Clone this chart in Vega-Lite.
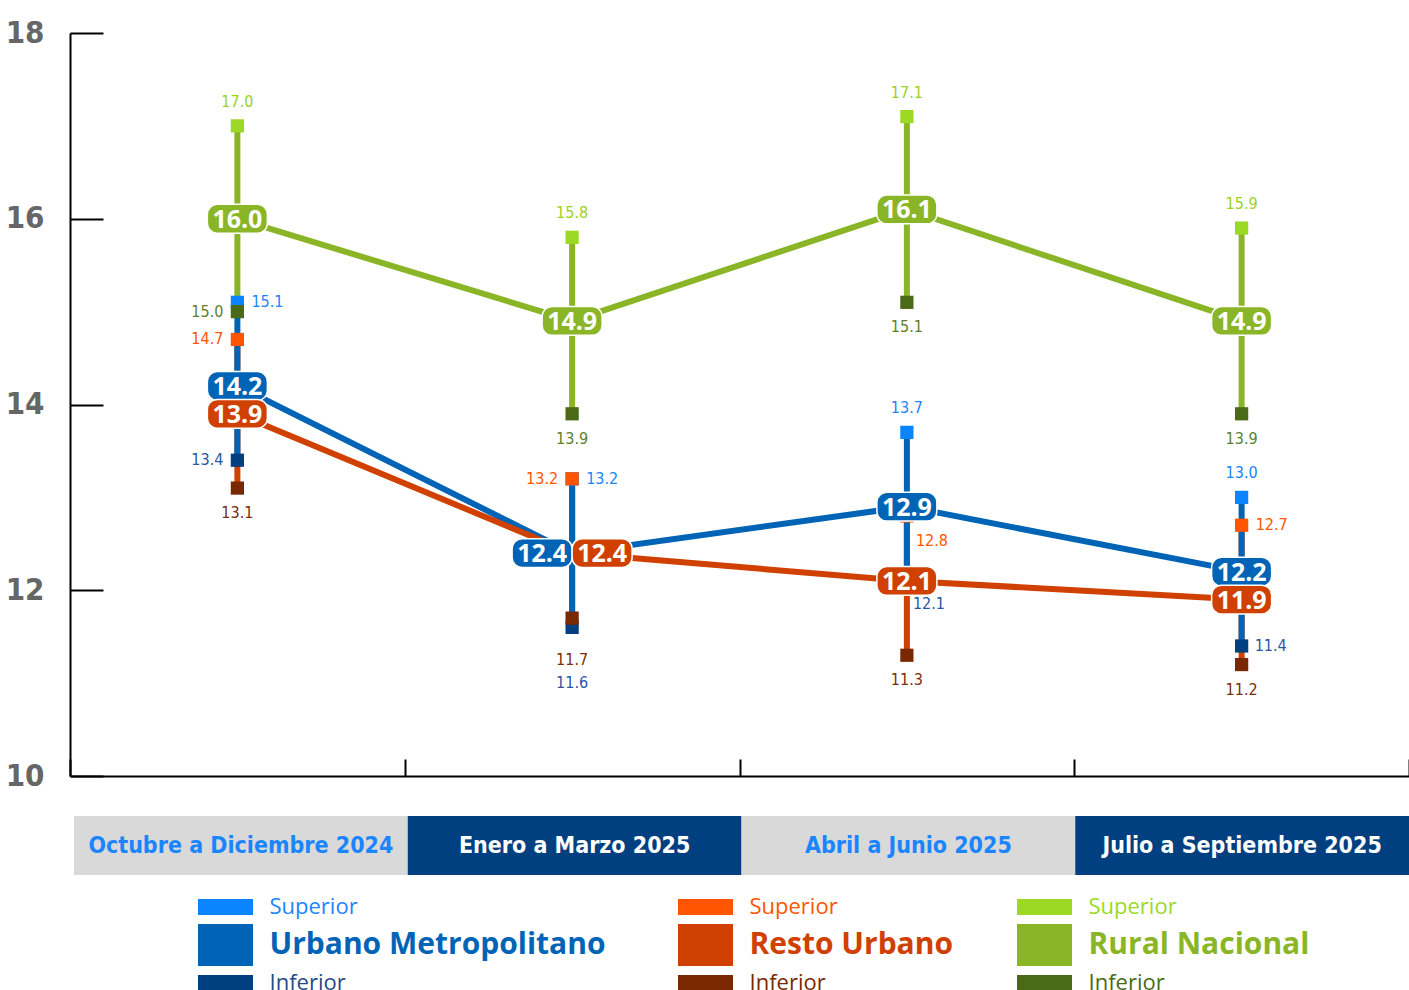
{
  "$schema": "https://vega.github.io/schema/vega-lite/v6.json",
  "background": "white",
  "padding": {"left": 5, "top": 17, "right": 0, "bottom": 0},
  "autosize": {"type": "pad"},
  "config": {"view": {"stroke": null}},
  "datasets": {
    "estimaciones": [
      {"periodo": "Octubre a Diciembre 2024", "serie": "Urbano Metropolitano", "media": 14.2, "sup": 15.1, "inf": 13.4},
      {"periodo": "Octubre a Diciembre 2024", "serie": "Resto Urbano", "media": 13.9, "sup": 14.7, "inf": 13.1},
      {"periodo": "Octubre a Diciembre 2024", "serie": "Rural Nacional", "media": 16.0, "sup": 17.0, "inf": 15.0},
      {"periodo": "Enero a Marzo 2025", "serie": "Urbano Metropolitano", "media": 12.4, "sup": 13.2, "inf": 11.6},
      {"periodo": "Enero a Marzo 2025", "serie": "Resto Urbano", "media": 12.4, "sup": 13.2, "inf": 11.7},
      {"periodo": "Enero a Marzo 2025", "serie": "Rural Nacional", "media": 14.9, "sup": 15.8, "inf": 13.9},
      {"periodo": "Abril a Junio 2025", "serie": "Urbano Metropolitano", "media": 12.9, "sup": 13.7, "inf": 12.1},
      {"periodo": "Abril a Junio 2025", "serie": "Resto Urbano", "media": 12.1, "sup": 12.8, "inf": 11.3},
      {"periodo": "Abril a Junio 2025", "serie": "Rural Nacional", "media": 16.1, "sup": 17.1, "inf": 15.1},
      {"periodo": "Julio a Septiembre 2025", "serie": "Urbano Metropolitano", "media": 12.2, "sup": 13.0, "inf": 11.4},
      {"periodo": "Julio a Septiembre 2025", "serie": "Resto Urbano", "media": 11.9, "sup": 12.7, "inf": 11.2},
      {"periodo": "Julio a Septiembre 2025", "serie": "Rural Nacional", "media": 14.9, "sup": 15.9, "inf": 13.9}
    ],
    "periodos": [
      {"periodo": "Octubre a Diciembre 2024"},
      {"periodo": "Enero a Marzo 2025"},
      {"periodo": "Abril a Junio 2025"},
      {"periodo": "Julio a Septiembre 2025"}
    ],
    "leyenda": [
      {"serie": "Urbano Metropolitano", "nivel": "Superior", "etiqueta": "Superior"},
      {"serie": "Urbano Metropolitano", "nivel": "Media", "etiqueta": "Urbano Metropolitano"},
      {"serie": "Urbano Metropolitano", "nivel": "Inferior", "etiqueta": "Inferior"},
      {"serie": "Resto Urbano", "nivel": "Superior", "etiqueta": "Superior"},
      {"serie": "Resto Urbano", "nivel": "Media", "etiqueta": "Resto Urbano"},
      {"serie": "Resto Urbano", "nivel": "Inferior", "etiqueta": "Inferior"},
      {"serie": "Rural Nacional", "nivel": "Superior", "etiqueta": "Superior"},
      {"serie": "Rural Nacional", "nivel": "Media", "etiqueta": "Rural Nacional"},
      {"serie": "Rural Nacional", "nivel": "Inferior", "etiqueta": "Inferior"}
    ]
  },
  "vconcat": [
    {
      "width": 1339,
      "height": 743,
      "data": {"name": "estimaciones"},
      "encoding": {
        "x": {
          "field": "periodo", "type": "nominal",
          "scale": {"type": "band", "domain": ["Octubre a Diciembre 2024", "Enero a Marzo 2025", "Abril a Junio 2025", "Julio a Septiembre 2025"], "paddingInner": 0, "paddingOuter": 0},
          "axis": {"title": null, "labels": false, "tickBand": "extent", "tickSize": -17, "tickWidth": 2, "tickColor": "black", "domainWidth": 2, "domainColor": "black", "grid": false}
        }
      },
      "layer": [
        {
          "mark": {"type": "rule", "strokeWidth": 6},
          "encoding": {
            "y": {"field": "inf", "type": "quantitative", "scale": {"domain": [10, 18], "nice": false, "zero": false},
              "axis": {"title": null, "values": [10, 12, 14, 16, 18], "format": "d", "grid": false, "domainColor": "black", "domainWidth": 2, "tickColor": "black", "tickWidth": 2, "tickSize": -33, "labelPadding": 59, "labelFont": "DejaVu Sans Condensed", "labelFontWeight": "bold", "labelFontSize": 31, "labelColor": "#666666"}},
            "y2": {"field": "sup"},
            "color": {"field": "serie", "type": "nominal", "legend": null,
              "scale": {"domain": ["Urbano Metropolitano", "Resto Urbano", "Rural Nacional"], "range": ["#0064B6", "#D04000", "#8AB526"]}},
            "order": {"field": "serie", "sort": "ascending"}
          }
        },
        {
          "mark": {"type": "line", "strokeWidth": 6},
          "encoding": {
            "y": {"field": "media", "type": "quantitative"},
            "color": {"field": "serie", "type": "nominal", "legend": null,
              "scale": {"domain": ["Urbano Metropolitano", "Resto Urbano", "Rural Nacional"], "range": ["#0064B6", "#D04000", "#8AB526"]}}
          }
        },
        {
          "mark": {"type": "point", "shape": "square", "filled": true, "opacity": 1, "size": 175},
          "encoding": {
            "y": {"field": "sup", "type": "quantitative"},
            "color": {"field": "serie", "type": "nominal", "legend": null,
              "scale": {"domain": ["Urbano Metropolitano", "Resto Urbano", "Rural Nacional"], "range": ["#0A84FF", "#FF5500", "#9CD925"]}},
            "order": {"field": "serie", "sort": "descending"}
          }
        },
        {
          "mark": {"type": "point", "shape": "square", "filled": true, "opacity": 1, "size": 175},
          "encoding": {
            "y": {"field": "inf", "type": "quantitative"},
            "color": {"field": "serie", "type": "nominal", "legend": null,
              "scale": {"domain": ["Urbano Metropolitano", "Resto Urbano", "Rural Nacional"], "range": ["#003F80", "#7A2800", "#4A6A18"]}},
            "order": {"field": "serie", "sort": "descending"}
          }
        },
        {
          "transform": [{"filter": "indexof(['ORu','ERu','ARu','AUr','JRu','JUr'], slice(datum.periodo,0,1)+slice(datum.serie,0,2)) >= 0"}],
          "mark": {"type": "text", "font": "DejaVu Sans Condensed", "fontSize": 16, "dy": -24, "align": "center", "baseline": "middle"},
          "encoding": {
            "y": {"field": "sup", "type": "quantitative"},
            "text": {"field": "sup", "type": "quantitative", "format": ".1f"},
            "color": {"field": "serie", "type": "nominal", "legend": null,
              "scale": {"domain": ["Urbano Metropolitano", "Resto Urbano", "Rural Nacional"], "range": ["#1A85FF", "#FF5500", "#9BD21F"]}}
          }
        },
        {
          "transform": [{"filter": "indexof(['ORe','ERe'], slice(datum.periodo,0,1)+slice(datum.serie,0,2)) >= 0"}],
          "mark": {"type": "text", "font": "DejaVu Sans Condensed", "fontSize": 16, "dx": -14, "align": "right", "baseline": "middle"},
          "encoding": {
            "y": {"field": "sup", "type": "quantitative"},
            "text": {"field": "sup", "type": "quantitative", "format": ".1f"},
            "color": {"field": "serie", "type": "nominal", "legend": null,
              "scale": {"domain": ["Urbano Metropolitano", "Resto Urbano", "Rural Nacional"], "range": ["#1A85FF", "#FF5500", "#9BD21F"]}}
          }
        },
        {
          "transform": [{"filter": "indexof(['OUr','EUr','JRe'], slice(datum.periodo,0,1)+slice(datum.serie,0,2)) >= 0"}],
          "mark": {"type": "text", "font": "DejaVu Sans Condensed", "fontSize": 16, "dx": 14, "align": "left", "baseline": "middle"},
          "encoding": {
            "y": {"field": "sup", "type": "quantitative"},
            "text": {"field": "sup", "type": "quantitative", "format": ".1f"},
            "color": {"field": "serie", "type": "nominal", "legend": null,
              "scale": {"domain": ["Urbano Metropolitano", "Resto Urbano", "Rural Nacional"], "range": ["#1A85FF", "#FF5500", "#9BD21F"]}}
          }
        },
        {
          "transform": [{"filter": "indexof(['ARe'], slice(datum.periodo,0,1)+slice(datum.serie,0,2)) >= 0"}],
          "mark": {"type": "text", "font": "DejaVu Sans Condensed", "fontSize": 16, "dx": 9, "dy": 25, "align": "left", "baseline": "middle"},
          "encoding": {
            "y": {"field": "sup", "type": "quantitative"},
            "text": {"field": "sup", "type": "quantitative", "format": ".1f"},
            "color": {"field": "serie", "type": "nominal", "legend": null,
              "scale": {"domain": ["Urbano Metropolitano", "Resto Urbano", "Rural Nacional"], "range": ["#1A85FF", "#FF5500", "#9BD21F"]}}
          }
        },
        {
          "transform": [{"filter": "indexof(['ORe','ERu','ARu','ARe','JRu','JRe'], slice(datum.periodo,0,1)+slice(datum.serie,0,2)) >= 0"}],
          "mark": {"type": "text", "font": "DejaVu Sans Condensed", "fontSize": 16, "dy": 25, "align": "center", "baseline": "middle"},
          "encoding": {
            "y": {"field": "inf", "type": "quantitative"},
            "text": {"field": "inf", "type": "quantitative", "format": ".1f"},
            "color": {"field": "serie", "type": "nominal", "legend": null,
              "scale": {"domain": ["Urbano Metropolitano", "Resto Urbano", "Rural Nacional"], "range": ["#2A56A3", "#7A2E0B", "#5E7F2E"]}}
          }
        },
        {
          "transform": [{"filter": "indexof(['ERe'], slice(datum.periodo,0,1)+slice(datum.serie,0,2)) >= 0"}],
          "mark": {"type": "text", "font": "DejaVu Sans Condensed", "fontSize": 16, "dy": 42, "align": "center", "baseline": "middle"},
          "encoding": {
            "y": {"field": "inf", "type": "quantitative"},
            "text": {"field": "inf", "type": "quantitative", "format": ".1f"},
            "color": {"field": "serie", "type": "nominal", "legend": null,
              "scale": {"domain": ["Urbano Metropolitano", "Resto Urbano", "Rural Nacional"], "range": ["#2A56A3", "#7A2E0B", "#5E7F2E"]}}
          }
        },
        {
          "transform": [{"filter": "indexof(['EUr'], slice(datum.periodo,0,1)+slice(datum.serie,0,2)) >= 0"}],
          "mark": {"type": "text", "font": "DejaVu Sans Condensed", "fontSize": 16, "dy": 56, "align": "center", "baseline": "middle"},
          "encoding": {
            "y": {"field": "inf", "type": "quantitative"},
            "text": {"field": "inf", "type": "quantitative", "format": ".1f"},
            "color": {"field": "serie", "type": "nominal", "legend": null,
              "scale": {"domain": ["Urbano Metropolitano", "Resto Urbano", "Rural Nacional"], "range": ["#2A56A3", "#7A2E0B", "#5E7F2E"]}}
          }
        },
        {
          "transform": [{"filter": "indexof(['ORu','OUr'], slice(datum.periodo,0,1)+slice(datum.serie,0,2)) >= 0"}],
          "mark": {"type": "text", "font": "DejaVu Sans Condensed", "fontSize": 16, "dx": -14, "align": "right", "baseline": "middle"},
          "encoding": {
            "y": {"field": "inf", "type": "quantitative"},
            "text": {"field": "inf", "type": "quantitative", "format": ".1f"},
            "color": {"field": "serie", "type": "nominal", "legend": null,
              "scale": {"domain": ["Urbano Metropolitano", "Resto Urbano", "Rural Nacional"], "range": ["#2A56A3", "#7A2E0B", "#5E7F2E"]}}
          }
        },
        {
          "transform": [{"filter": "indexof(['JUr'], slice(datum.periodo,0,1)+slice(datum.serie,0,2)) >= 0"}],
          "mark": {"type": "text", "font": "DejaVu Sans Condensed", "fontSize": 16, "dx": 13, "align": "left", "baseline": "middle"},
          "encoding": {
            "y": {"field": "inf", "type": "quantitative"},
            "text": {"field": "inf", "type": "quantitative", "format": ".1f"},
            "color": {"field": "serie", "type": "nominal", "legend": null,
              "scale": {"domain": ["Urbano Metropolitano", "Resto Urbano", "Rural Nacional"], "range": ["#2A56A3", "#7A2E0B", "#5E7F2E"]}}
          }
        },
        {
          "transform": [{"filter": "indexof(['AUr'], slice(datum.periodo,0,1)+slice(datum.serie,0,2)) >= 0"}],
          "mark": {"type": "text", "font": "DejaVu Sans Condensed", "fontSize": 16, "dx": 6, "dy": 23, "align": "left", "baseline": "middle"},
          "encoding": {
            "y": {"field": "inf", "type": "quantitative"},
            "text": {"field": "inf", "type": "quantitative", "format": ".1f"},
            "color": {"field": "serie", "type": "nominal", "legend": null,
              "scale": {"domain": ["Urbano Metropolitano", "Resto Urbano", "Rural Nacional"], "range": ["#2A56A3", "#7A2E0B", "#5E7F2E"]}}
          }
        },
        {
          "transform": [{"filter": "indexof(['EUr','ERe'], slice(datum.periodo,0,1)+slice(datum.serie,0,2)) < 0"}],
          "mark": {"type": "point", "filled": true, "opacity": 1, "size": 3600, "stroke": "white", "strokeWidth": 1.5,
            "shape": "M -0.67,-0.48 L 0.67,-0.48 A 0.33,0.33 0 0 1 1,-0.15 L 1,0.15 A 0.33,0.33 0 0 1 0.67,0.48 L -0.67,0.48 A 0.33,0.33 0 0 1 -1,0.15 L -1,-0.15 A 0.33,0.33 0 0 1 -0.67,-0.48 Z"},
          "encoding": {
            "y": {"field": "media", "type": "quantitative"},
            "fill": {"field": "serie", "type": "nominal", "legend": null,
              "scale": {"domain": ["Urbano Metropolitano", "Resto Urbano", "Rural Nacional"], "range": ["#0064B6", "#D04000", "#8AB526"]}}
          }
        },
        {
          "transform": [{"filter": "indexof(['EUr'], slice(datum.periodo,0,1)+slice(datum.serie,0,2)) >= 0"}],
          "mark": {"type": "point", "filled": true, "opacity": 1, "size": 3600, "stroke": "white", "strokeWidth": 1.5, "xOffset": -30,
            "shape": "M -0.67,-0.48 L 0.67,-0.48 A 0.33,0.33 0 0 1 1,-0.15 L 1,0.15 A 0.33,0.33 0 0 1 0.67,0.48 L -0.67,0.48 A 0.33,0.33 0 0 1 -1,0.15 L -1,-0.15 A 0.33,0.33 0 0 1 -0.67,-0.48 Z"},
          "encoding": {
            "y": {"field": "media", "type": "quantitative"},
            "fill": {"field": "serie", "type": "nominal", "legend": null,
              "scale": {"domain": ["Urbano Metropolitano", "Resto Urbano", "Rural Nacional"], "range": ["#0064B6", "#D04000", "#8AB526"]}}
          }
        },
        {
          "transform": [{"filter": "indexof(['ERe'], slice(datum.periodo,0,1)+slice(datum.serie,0,2)) >= 0"}],
          "mark": {"type": "point", "filled": true, "opacity": 1, "size": 3600, "stroke": "white", "strokeWidth": 1.5, "xOffset": 30,
            "shape": "M -0.67,-0.48 L 0.67,-0.48 A 0.33,0.33 0 0 1 1,-0.15 L 1,0.15 A 0.33,0.33 0 0 1 0.67,0.48 L -0.67,0.48 A 0.33,0.33 0 0 1 -1,0.15 L -1,-0.15 A 0.33,0.33 0 0 1 -0.67,-0.48 Z"},
          "encoding": {
            "y": {"field": "media", "type": "quantitative"},
            "fill": {"field": "serie", "type": "nominal", "legend": null,
              "scale": {"domain": ["Urbano Metropolitano", "Resto Urbano", "Rural Nacional"], "range": ["#0064B6", "#D04000", "#8AB526"]}}
          }
        },
        {
          "transform": [{"filter": "indexof(['EUr','ERe'], slice(datum.periodo,0,1)+slice(datum.serie,0,2)) < 0"}],
          "mark": {"type": "text", "font": "Open Sans", "fontWeight": "bold", "fontSize": 25, "color": "white", "align": "center", "baseline": "middle", "dy": 1},
          "encoding": {
            "y": {"field": "media", "type": "quantitative"},
            "text": {"field": "media", "type": "quantitative", "format": ".1f"}
          }
        },
        {
          "transform": [{"filter": "indexof(['EUr'], slice(datum.periodo,0,1)+slice(datum.serie,0,2)) >= 0"}],
          "mark": {"type": "text", "font": "Open Sans", "fontWeight": "bold", "fontSize": 25, "color": "white", "align": "center", "baseline": "middle", "dy": 1, "dx": -30},
          "encoding": {
            "y": {"field": "media", "type": "quantitative"},
            "text": {"field": "media", "type": "quantitative", "format": ".1f"}
          }
        },
        {
          "transform": [{"filter": "indexof(['ERe'], slice(datum.periodo,0,1)+slice(datum.serie,0,2)) >= 0"}],
          "mark": {"type": "text", "font": "Open Sans", "fontWeight": "bold", "fontSize": 25, "color": "white", "align": "center", "baseline": "middle", "dy": 1, "dx": 30},
          "encoding": {
            "y": {"field": "media", "type": "quantitative"},
            "text": {"field": "media", "type": "quantitative", "format": ".1f"}
          }
        }
      ],
      "resolve": {"scale": {"color": "independent", "fill": "independent"}}
    },
    {
      "width": 1339,
      "height": 59,
      "data": {"name": "periodos"},
      "encoding": {
        "x": {"field": "periodo", "type": "nominal", "axis": null,
          "scale": {"type": "band", "domain": ["Octubre a Diciembre 2024", "Enero a Marzo 2025", "Abril a Junio 2025", "Julio a Septiembre 2025"], "range": [4, 1339], "paddingInner": 0, "paddingOuter": 0}}
      },
      "layer": [
        {
          "mark": {"type": "rect"},
          "encoding": {
            "color": {"condition": {"test": "indexof(['Octubre a Diciembre 2024','Abril a Junio 2025'], datum.periodo) >= 0", "value": "#D9D9D9"}, "value": "#003F80"}
          }
        },
        {
          "mark": {"type": "text", "font": "DejaVu Sans Condensed", "fontWeight": "bold", "fontSize": 23, "align": "center", "baseline": "middle"},
          "encoding": {
            "text": {"field": "periodo"},
            "color": {"condition": {"test": "indexof(['Octubre a Diciembre 2024','Abril a Junio 2025'], datum.periodo) >= 0", "value": "#1A85FF"}, "value": "#FFFFFF"}
          }
        }
      ]
    },
    {
      "data": {"name": "leyenda"},
      "spacing": 0,
      "bounds": "flush",
      "hconcat": [
        {
          "width": 311, "height": 76,
          "transform": [{"filter": "datum.serie == 'Urbano Metropolitano'"}],
          "encoding": {"y": {"field": "nivel", "type": "nominal", "axis": null, "scale": {"type": "point", "domain": ["Superior", "Media", "Inferior"], "range": [-8, 68], "padding": 0}}},
          "layer": [
            {
              "mark": {"type": "point", "filled": true, "opacity": 1, "size": 3025},
              "encoding": {
                "shape": {"field": "nivel", "type": "nominal", "legend": null, "scale": {"domain": ["Superior", "Media", "Inferior"], "range": ["M -1,-0.29 L 1,-0.29 L 1,0.29 L -1,0.29 Z", "M -1,-0.76 L 1,-0.76 L 1,0.76 L -1,0.76 Z", "M -1,-0.29 L 1,-0.29 L 1,0.29 L -1,0.29 Z"]}},
                "color": {"field": "nivel", "type": "nominal", "legend": null, "scale": {"domain": ["Superior", "Media", "Inferior"], "range": ["#0A84FF", "#0064B6", "#003F80"]}}
              }
            },
            {
              "transform": [{"filter": "datum.nivel != 'Media'"}],
              "mark": {"type": "text", "font": "Open Sans", "fontSize": 22, "align": "left", "baseline": "middle", "dx": 44},
              "encoding": {"text": {"field": "etiqueta"}, "color": {"field": "nivel", "type": "nominal", "legend": null, "scale": {"domain": ["Superior", "Media", "Inferior"], "range": ["#1A85FF", "#0064B6", "#1F4A8A"]}}}
            },
            {
              "transform": [{"filter": "datum.nivel == 'Media'"}],
              "mark": {"type": "text", "font": "Open Sans", "fontWeight": "bold", "fontSize": 30, "align": "left", "baseline": "middle", "dx": 44},
              "encoding": {"text": {"field": "etiqueta"}, "color": {"field": "nivel", "type": "nominal", "legend": null, "scale": {"domain": ["Superior", "Media", "Inferior"], "range": ["#1A85FF", "#0064B6", "#1F4A8A"]}}}
            }
          ],
          "resolve": {"scale": {"color": "independent"}}
        },
        {
          "width": 649, "height": 76,
          "transform": [{"filter": "datum.serie == 'Resto Urbano'"}],
          "encoding": {"y": {"field": "nivel", "type": "nominal", "axis": null, "scale": {"type": "point", "domain": ["Superior", "Media", "Inferior"], "range": [-8, 68], "padding": 0}}},
          "layer": [
            {
              "mark": {"type": "point", "filled": true, "opacity": 1, "size": 3025},
              "encoding": {
                "shape": {"field": "nivel", "type": "nominal", "legend": null, "scale": {"domain": ["Superior", "Media", "Inferior"], "range": ["M -1,-0.29 L 1,-0.29 L 1,0.29 L -1,0.29 Z", "M -1,-0.76 L 1,-0.76 L 1,0.76 L -1,0.76 Z", "M -1,-0.29 L 1,-0.29 L 1,0.29 L -1,0.29 Z"]}},
                "color": {"field": "nivel", "type": "nominal", "legend": null, "scale": {"domain": ["Superior", "Media", "Inferior"], "range": ["#FF5500", "#D04000", "#7A2800"]}}
              }
            },
            {
              "transform": [{"filter": "datum.nivel != 'Media'"}],
              "mark": {"type": "text", "font": "Open Sans", "fontSize": 22, "align": "left", "baseline": "middle", "dx": 44},
              "encoding": {"text": {"field": "etiqueta"}, "color": {"field": "nivel", "type": "nominal", "legend": null, "scale": {"domain": ["Superior", "Media", "Inferior"], "range": ["#FF5500", "#D04000", "#7A2800"]}}}
            },
            {
              "transform": [{"filter": "datum.nivel == 'Media'"}],
              "mark": {"type": "text", "font": "Open Sans", "fontWeight": "bold", "fontSize": 30, "align": "left", "baseline": "middle", "dx": 44},
              "encoding": {"text": {"field": "etiqueta"}, "color": {"field": "nivel", "type": "nominal", "legend": null, "scale": {"domain": ["Superior", "Media", "Inferior"], "range": ["#FF5500", "#D04000", "#7A2800"]}}}
            }
          ],
          "resolve": {"scale": {"color": "independent"}}
        },
        {
          "width": 29, "height": 76,
          "transform": [{"filter": "datum.serie == 'Rural Nacional'"}],
          "encoding": {"y": {"field": "nivel", "type": "nominal", "axis": null, "scale": {"type": "point", "domain": ["Superior", "Media", "Inferior"], "range": [-8, 68], "padding": 0}}},
          "layer": [
            {
              "mark": {"type": "point", "filled": true, "opacity": 1, "size": 3025},
              "encoding": {
                "shape": {"field": "nivel", "type": "nominal", "legend": null, "scale": {"domain": ["Superior", "Media", "Inferior"], "range": ["M -1,-0.29 L 1,-0.29 L 1,0.29 L -1,0.29 Z", "M -1,-0.76 L 1,-0.76 L 1,0.76 L -1,0.76 Z", "M -1,-0.29 L 1,-0.29 L 1,0.29 L -1,0.29 Z"]}},
                "color": {"field": "nivel", "type": "nominal", "legend": null, "scale": {"domain": ["Superior", "Media", "Inferior"], "range": ["#9CD925", "#8AB526", "#4A6A18"]}}
              }
            },
            {
              "transform": [{"filter": "datum.nivel != 'Media'"}],
              "mark": {"type": "text", "font": "Open Sans", "fontSize": 22, "align": "left", "baseline": "middle", "dx": 44},
              "encoding": {"text": {"field": "etiqueta"}, "color": {"field": "nivel", "type": "nominal", "legend": null, "scale": {"domain": ["Superior", "Media", "Inferior"], "range": ["#9CD925", "#8AB526", "#4A6A18"]}}}
            },
            {
              "transform": [{"filter": "datum.nivel == 'Media'"}],
              "mark": {"type": "text", "font": "Open Sans", "fontWeight": "bold", "fontSize": 30, "align": "left", "baseline": "middle", "dx": 44},
              "encoding": {"text": {"field": "etiqueta"}, "color": {"field": "nivel", "type": "nominal", "legend": null, "scale": {"domain": ["Superior", "Media", "Inferior"], "range": ["#9CD925", "#8AB526", "#4A6A18"]}}}
            }
          ],
          "resolve": {"scale": {"color": "independent"}}
        }
      ]
    }
  ],
  "spacing": 40,
  "bounds": "flush"
}
